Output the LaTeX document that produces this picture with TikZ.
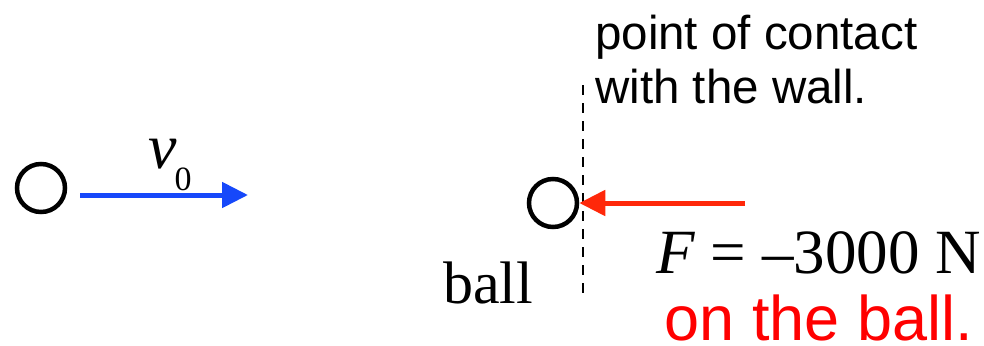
\documentclass[tikz,border=0pt]{standalone}
\usepackage{fontspec}
\setmainfont{Liberation Serif}
\setsansfont{Liberation Sans}
\usepackage{xcolor}
\usepackage{tikz}
\usetikzlibrary{arrows.meta}

\definecolor{velblue}{RGB}{22,72,250}
\definecolor{forcered}{RGB}{255,40,10}
\definecolor{notered}{RGB}{255,0,0}

\begin{document}
\begin{tikzpicture}[
    x=1pt, y=-1pt,
    ball/.style={circle, draw, line width=4.5pt, minimum size=48pt, inner sep=0pt},
    vec/.style={line width=5pt, draw=#1, -{Triangle[length=26pt, width=25pt]}},
    wall/.style={line width=2pt, dash pattern=on 10pt off 8pt},
    sanslbl/.style={font=\sffamily\fontsize{47.5}{53}\selectfont, inner sep=0pt, anchor=base west},
    seriflbl/.style={font=\fontsize{#1}{#1}\selectfont, inner sep=0pt}
]
    \useasboundingbox (0,0) rectangle (984,345);

    % Before: ball moving with v0
    \node[ball] (ballA) at (41,188) {};
    \coordinate (vstart) at (80,195);
    \coordinate (vend) at (248,195);
    \draw[vec=velblue] (vstart) -- (vend);
    \node[seriflbl=64, anchor=base west] (vlabel) at (148,168)
        {\itshape v\upshape\hspace{-2pt}\raisebox{-22pt}{\fontsize{34}{34}\selectfont 0}};

    % At the wall
    \node[ball] (ballB) at (553,203) {};
    \coordinate (walltop) at (583,85);
    \coordinate (wallbot) at (583,300);
    \draw[wall] (walltop) -- (wallbot);
    \coordinate (Ftail) at (745,203);
    \draw[vec=forcered] (Ftail) -- (ballB.east);

    % Labels
    \node[sanslbl] (contact1) at (595,50) {point of contact};
    \node[sanslbl] (contact2) at ([yshift=-53pt]contact1.base west) {with the wall.};
    \node[seriflbl=60, anchor=base west] (balllbl) at (443,303) {ball};
    \node[seriflbl=63, anchor=base east] (Flabel) at (981,273)
        {\textit{F}\hspace{0.25em}=\hspace{0.25em}–3000\hspace{0.25em}N};
    \node[sanslbl, font=\sffamily\fontsize{63}{63}\selectfont, text=notered, text depth=0pt, anchor=base east]
        (onball) at (973,340) {on the ball.};
\end{tikzpicture}
\end{document}
